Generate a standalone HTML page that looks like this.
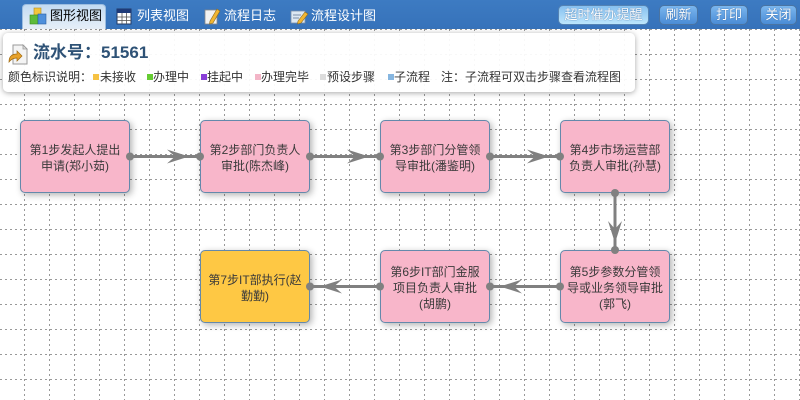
<!DOCTYPE html>
<html><head><meta charset="utf-8">
<style>
html,body{margin:0;padding:0}
body{width:800px;height:400px;overflow:hidden;background:#fff;position:relative;font-family:"Liberation Sans","Noto Sans CJK SC",sans-serif}
.abs{position:absolute}
.bar{left:0;top:0;width:800px;height:29px;background:linear-gradient(#3d7bc2,#3672ba);}
.tab{position:absolute;top:4px;height:25px;color:#fff;font-size:13px;line-height:24px;white-space:nowrap}
.tab.active{left:22px;width:84px;background:linear-gradient(#c3dbf2,#e6eff8);border:1px solid #9cbde0;border-bottom:none;border-radius:4px 4px 0 0;box-sizing:border-box;color:#000}
.btn{position:absolute;top:5px;height:20px;box-sizing:border-box;border:1px solid #4a74a2;border-radius:5px;background:linear-gradient(#7ab6ee,#4a8cd6);color:#fff;font-size:13px;line-height:18px;text-align:center;text-shadow:0 0 1px #1f4f88}
.btn.light{background:linear-gradient(#86c0f0,#bde6fc);border-color:#5583b3}
.panel{left:3px;top:33px;width:632px;height:59px;background:rgba(255,255,255,0.93);border-radius:5px;box-shadow:0 1px 6px rgba(0,0,0,0.35)}
.node{position:absolute;width:110px;height:73px;box-sizing:border-box;border:1px solid #6489ab;border-radius:5px;background:#f8b6ca;box-shadow:2px 2px 7px rgba(0,0,0,0.3);display:flex;align-items:center;justify-content:center;text-align:center;font-size:12px;line-height:16px;color:#3a3a3a;padding-top:3px}
.node.y{background:#fec844}
.lg{position:absolute;top:69px;font-size:12px;line-height:16px;color:#333;white-space:nowrap}
.sq{position:absolute;top:74px;width:6px;height:6px}
</style></head>
<body>
<svg class="abs" style="left:0;top:0" width="800" height="400">
<g stroke="#999" stroke-width="1" stroke-dasharray="2,3" shape-rendering="crispEdges">
<line x1="24.5" y1="29" x2="24.5" y2="400"/><line x1="49.5" y1="29" x2="49.5" y2="400"/><line x1="74.5" y1="29" x2="74.5" y2="400"/><line x1="99.5" y1="29" x2="99.5" y2="400"/><line x1="124.5" y1="29" x2="124.5" y2="400"/><line x1="149.5" y1="29" x2="149.5" y2="400"/><line x1="174.5" y1="29" x2="174.5" y2="400"/><line x1="199.5" y1="29" x2="199.5" y2="400"/><line x1="224.5" y1="29" x2="224.5" y2="400"/><line x1="249.5" y1="29" x2="249.5" y2="400"/><line x1="274.5" y1="29" x2="274.5" y2="400"/><line x1="299.5" y1="29" x2="299.5" y2="400"/><line x1="324.5" y1="29" x2="324.5" y2="400"/><line x1="349.5" y1="29" x2="349.5" y2="400"/><line x1="374.5" y1="29" x2="374.5" y2="400"/><line x1="399.5" y1="29" x2="399.5" y2="400"/><line x1="424.5" y1="29" x2="424.5" y2="400"/><line x1="449.5" y1="29" x2="449.5" y2="400"/><line x1="474.5" y1="29" x2="474.5" y2="400"/><line x1="499.5" y1="29" x2="499.5" y2="400"/><line x1="524.5" y1="29" x2="524.5" y2="400"/><line x1="549.5" y1="29" x2="549.5" y2="400"/><line x1="574.5" y1="29" x2="574.5" y2="400"/><line x1="599.5" y1="29" x2="599.5" y2="400"/><line x1="624.5" y1="29" x2="624.5" y2="400"/><line x1="649.5" y1="29" x2="649.5" y2="400"/><line x1="674.5" y1="29" x2="674.5" y2="400"/><line x1="699.5" y1="29" x2="699.5" y2="400"/><line x1="724.5" y1="29" x2="724.5" y2="400"/><line x1="749.5" y1="29" x2="749.5" y2="400"/><line x1="774.5" y1="29" x2="774.5" y2="400"/><line x1="799.5" y1="29" x2="799.5" y2="400"/>
<line x1="0" y1="29.5" x2="800" y2="29.5"/><line x1="0" y1="54.5" x2="800" y2="54.5"/><line x1="0" y1="79.5" x2="800" y2="79.5"/><line x1="0" y1="104.5" x2="800" y2="104.5"/><line x1="0" y1="129.5" x2="800" y2="129.5"/><line x1="0" y1="154.5" x2="800" y2="154.5"/><line x1="0" y1="179.5" x2="800" y2="179.5"/><line x1="0" y1="204.5" x2="800" y2="204.5"/><line x1="0" y1="229.5" x2="800" y2="229.5"/><line x1="0" y1="254.5" x2="800" y2="254.5"/><line x1="0" y1="279.5" x2="800" y2="279.5"/><line x1="0" y1="304.5" x2="800" y2="304.5"/><line x1="0" y1="329.5" x2="800" y2="329.5"/><line x1="0" y1="354.5" x2="800" y2="354.5"/><line x1="0" y1="379.5" x2="800" y2="379.5"/>
</g>
</svg>

<div class="node" style="left:20px;top:120px">第1步发起人提出<br>申请(郑小茹)</div>
<div class="node" style="left:200px;top:120px">第2步部门负责人<br>审批(陈杰峰)</div>
<div class="node" style="left:380px;top:120px">第3步部门分管领<br>导审批(潘鉴明)</div>
<div class="node" style="left:560px;top:120px">第4步市场运营部<br>负责人审批(孙慧)</div>
<div class="node" style="left:560px;top:250px">第5步参数分管领<br>导或业务领导审批<br>(郭飞)</div>
<div class="node" style="left:380px;top:250px">第6步IT部门金服<br>项目负责人审批<br>(胡鹏)</div>
<div class="node y" style="left:200px;top:250px">第7步IT部执行(赵<br>勤勤)</div>

<svg class="abs" style="left:0;top:0" width="800" height="400">
<g stroke="#808080" stroke-width="3" fill="none">
<line x1="130" y1="156.5" x2="200" y2="156.5"/>
<line x1="310" y1="156.5" x2="380" y2="156.5"/>
<line x1="490" y1="156.5" x2="560" y2="156.5"/>
<line x1="615" y1="193" x2="615" y2="250"/>
<line x1="560" y1="286.5" x2="490" y2="286.5"/>
<line x1="380" y1="286.5" x2="310" y2="286.5"/>
</g>
<g fill="#808080">
<polygon points="189,156.5 167,149.5 175,156.5 167,163.5"/>
<polygon points="369,156.5 347,149.5 355,156.5 347,163.5"/>
<polygon points="549,156.5 527,149.5 535,156.5 527,163.5"/>
<polygon points="615,243 608,221 615,229 622,221"/>
<polygon points="500,286.5 522,279.5 514,286.5 522,293.5"/>
<polygon points="320,286.5 342,279.5 334,286.5 342,293.5"/>
<circle cx="130" cy="156.5" r="4"/><circle cx="200" cy="156.5" r="4"/>
<circle cx="310" cy="156.5" r="4"/><circle cx="380" cy="156.5" r="4"/>
<circle cx="490" cy="156.5" r="4"/><circle cx="560" cy="156.5" r="4"/>
<circle cx="615" cy="193" r="4"/><circle cx="615" cy="250" r="4"/>
<circle cx="560" cy="286.5" r="4"/><circle cx="490" cy="286.5" r="4"/>
<circle cx="380" cy="286.5" r="4"/><circle cx="310" cy="286.5" r="4"/>
</g>
</svg>

<div class="abs bar"></div>
<div class="tab active"></div>
<svg class="abs" style="left:0;top:0" width="320" height="29">
<rect x="34" y="8" width="7" height="7" fill="#f4c63c" stroke="#b08a20" stroke-width="0.6"/>
<rect x="30" y="15" width="8" height="9" fill="#5cbb3a" stroke="#3a8a20" stroke-width="0.6"/>
<rect x="38" y="14" width="8" height="10" fill="#4d8fdb" stroke="#2a5fa0" stroke-width="0.6"/>
<rect x="117" y="9" width="14" height="15" fill="#fff" stroke="#223a66" stroke-width="1"/>
<rect x="117" y="9" width="14" height="4" fill="#1e3a78"/>
<line x1="117" y1="17" x2="131" y2="17" stroke="#555" stroke-width="0.8"/><line x1="117" y1="20.5" x2="131" y2="20.5" stroke="#555" stroke-width="0.8"/><line x1="122" y1="13" x2="122" y2="24" stroke="#555" stroke-width="0.8"/><line x1="126.5" y1="13" x2="126.5" y2="24" stroke="#555" stroke-width="0.8"/>
<rect x="205" y="10" width="12" height="14" fill="#f2f2f2" stroke="#888" stroke-width="0.8"/>
<polygon points="210,21 217,9 220,11 213,23 209.5,24" fill="#f2b632" stroke="#8a6a20" stroke-width="0.6"/>
<rect x="291" y="11" width="14" height="12" fill="#dde8f3" stroke="#7a8ea8" stroke-width="0.8"/>
<line x1="293" y1="15" x2="301" y2="15" stroke="#7a8ea8"/><line x1="293" y1="18" x2="299" y2="18" stroke="#7a8ea8"/>
<polygon points="298,21 305,12 308,14 301,23 297.5,24" fill="#f2b632" stroke="#8a6a20" stroke-width="0.6"/>
</svg>
<div class="tab" style="left:50px;color:#000">图形视图</div>
<div class="tab" style="left:137px">列表视图</div>
<div class="tab" style="left:224px">流程日志</div>
<div class="tab" style="left:311px">流程设计图</div>

<div class="btn light" style="left:558px;width:91px">超时催办提醒</div>
<div class="btn" style="left:659px;width:39px">刷新</div>
<div class="btn" style="left:710px;width:38px">打印</div>
<div class="btn" style="left:760px;width:37px">关闭</div>

<div class="abs panel"></div>
<svg class="abs" style="left:6px;top:43px" width="24" height="24">
<polygon points="7,2 17,2 21,6 21,21 7,21" fill="#f4f4f4" stroke="#9a9a9a" stroke-width="1"/>
<polygon points="17,2 17,6 21,6" fill="#ddd" stroke="#9a9a9a" stroke-width="0.8"/>
<path d="M3,19 Q3,11 11,11 L11,8 L16,13 L11,18 L11,15 Q6,15 3,19 Z" fill="#e8a22a" stroke="#a06a10" stroke-width="0.7"/>
</svg>
<div class="abs" style="left:33px;top:42px;font-size:17px;line-height:22px;font-weight:bold;color:#2e5276;white-space:nowrap">流水号：51561</div>

<div class="lg" style="left:8px">颜色标识说明：</div>
<div class="sq" style="left:93px;background:#f6c243"></div><div class="lg" style="left:100px">未接收</div>
<div class="sq" style="left:147px;background:#66cc33"></div><div class="lg" style="left:153px">办理中</div>
<div class="sq" style="left:201px;background:#8a3fd8"></div><div class="lg" style="left:207px">挂起中</div>
<div class="sq" style="left:255px;background:#f3b5c7"></div><div class="lg" style="left:261px">办理完毕</div>
<div class="sq" style="left:320px;background:#dcdcdc"></div><div class="lg" style="left:327px">预设步骤</div>
<div class="sq" style="left:388px;background:#86b6e0"></div><div class="lg" style="left:394px">子流程</div>
<div class="lg" style="left:441px">注：子流程可双击步骤查看流程图</div>
</body></html>
